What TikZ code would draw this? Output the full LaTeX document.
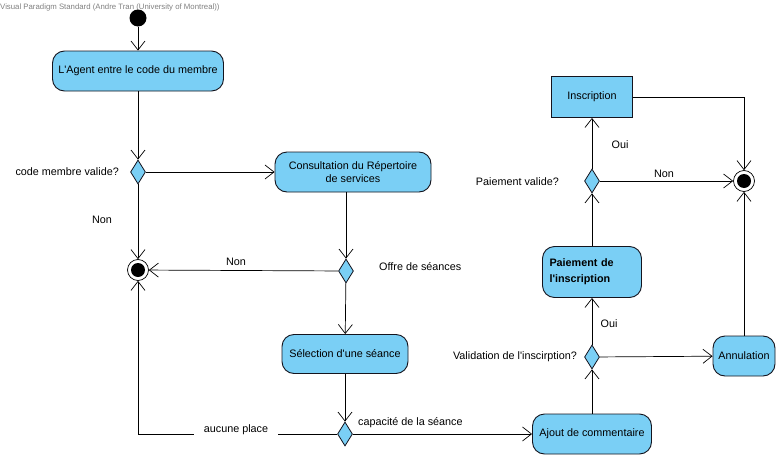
\documentclass[tikz,border=0pt]{standalone}
\usepackage{fontspec}
\setmainfont{Liberation Sans}
\usetikzlibrary{arrows.meta,shapes.geometric}
\definecolor{actfill}{RGB}{122,207,245}
\definecolor{edgeclr}{RGB}{20,20,30}
\begin{document}
\begin{tikzpicture}[x=1pt,y=-1pt,
  txt/.style={font=\fontsize{10.8}{13}\selectfont},
  act/.style={draw=edgeclr, fill=actfill, rounded corners=12pt, line width=0.9pt,
    minimum height=40pt, align=center, inner sep=2pt, txt},
  plain/.style={draw=edgeclr, fill=actfill, line width=0.9pt, minimum height=41pt, txt},
  dec/.style={diamond, draw=edgeclr, fill=actfill, line width=0.8pt, minimum width=15pt,
    minimum height=24pt, inner sep=0pt},
  initnode/.style={circle, fill=black, minimum size=17pt, inner sep=0pt},
  finnode/.style={circle, draw=black, fill=white, line width=0.7pt, minimum size=21pt, inner sep=0pt,
    path picture={\fill[black] (path picture bounding box.center) circle (7pt);}},
  arr/.style={-{Straight Barb[length=9pt,width=14pt,line width=0.7pt]}, line width=0.7pt, draw=black},
  lbl/.style={txt, inner sep=1pt}
]
\useasboundingbox (0,0) rectangle (780,458);

\node[anchor=west, font=\fontsize{7.8}{9}\selectfont, text=gray, inner sep=0pt] (title) at (0,7)
  {Visual Paradigm Standard (Andre Tran (University of Montreal))};

\node[initnode] (init) at (138,18) {};
\node[act, minimum width=171pt] (a1) at (138,71) {L\textquotesingle Agent entre le code du membre};
\node[dec] (d1) at (138,172) {};
\node[act, minimum width=156pt] (cons) at (353,172) {Consultation du Répertoire\\de services};
\node[finnode] (f1) at (138,270) {};
\node[dec] (d2) at (346,271) {};
\node[act, minimum width=126pt, minimum height=39pt] (sel) at (345,354) {Sélection d\textquotesingle une séance};
\node[dec] (d3) at (345,434) {};
\node[act, minimum width=119pt] (ajout) at (592,434) {Ajout de commentaire};
\node[dec] (d4) at (592,357) {};
\node[act, minimum width=62pt] (ann) at (744,356) {Annulation};
\node[act, minimum height=51pt, text width=85pt, align=left, inner xsep=7pt,
  font=\fontsize{10.8}{16}\selectfont\bfseries] (pai) at (592,272) {Paiement de\\l\textquotesingle inscription};
\node[dec] (d5) at (592,181) {};
\node[finnode] (f2) at (744,181) {};
\node[plain, minimum width=81pt] (insc) at (592,97) {Inscription};

\draw[arr] (init) -- (a1);
\draw[arr] (a1) -- (d1);
\draw[arr] (d1) -- (cons);
\draw[arr] (d1) -- (f1);
\draw[arr] (cons.south -| d2) -- (d2);
\draw[arr] (d2) -- (f1);
\draw[arr] (d2) -- (sel);
\draw[arr] (sel) -- (d3);
\draw[arr] (d3) -- (ajout);
\draw[arr] (d3.west) -| (f1);
\draw[arr] (ajout) -- (d4);
\draw[arr] (d4) -- (ann);
\draw[arr] (d4) -- (pai);
\draw[arr] (pai) -- (d5);
\draw[arr] (d5) -- (insc);
\draw[arr] (d5) -- (f2);
\draw[arr] (insc.east) -| (f2);
\draw[arr] (ann) -- (f2);

\node[lbl, anchor=east] (l1) at (120,172) {code membre valide?};
\node[lbl] (l2) at (102,220) {Non};
\node[lbl] (l3) at (236,262) {Non};
\node[lbl, anchor=west] (l4) at (378,267) {Offre de séances};
\node[lbl, fill=white, inner xsep=10pt, inner ysep=3pt] (l5) at (236,430) {aucune place};
\node[lbl, anchor=west] (l6) at (357,423) {capacité de la séance};
\node[lbl, anchor=east] (l7) at (578,357) {Validation de l\textquotesingle inscirption?};
\node[lbl] (l8) at (609,324) {Oui};
\node[lbl, anchor=east] (l9) at (560,182) {Paiement valide?};
\node[lbl] (l10) at (620,145) {Oui};
\node[lbl] (l11) at (664,174) {Non};
\end{tikzpicture}
\end{document}
